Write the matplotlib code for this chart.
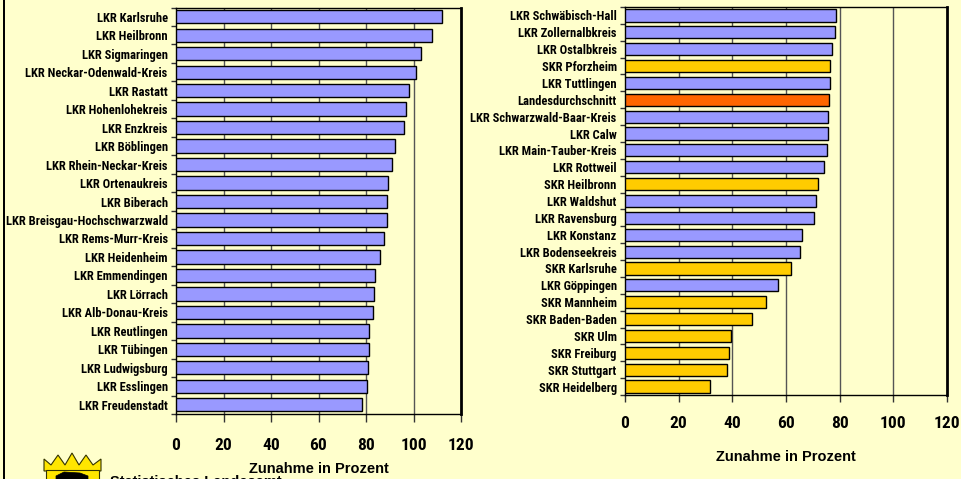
import matplotlib
matplotlib.use("Agg")
import matplotlib.pyplot as plt
from matplotlib.patches import Polygon, Rectangle
import numpy as np
import logging
logging.getLogger('matplotlib.font_manager').setLevel(logging.ERROR)

NARROW = ['Liberation Sans Narrow', 'Arial Narrow', 'Roboto Condensed', 'Fira Sans Condensed',
          'Liberation Sans', 'DejaVu Sans']
WIDE = ['Liberation Sans', 'DejaVu Sans']
plt.rcParams['font.family'] = NARROW

left_labels = ["LKR Karlsruhe", "LKR Heilbronn", "LKR Sigmaringen", "LKR Neckar-Odenwald-Kreis",
               "LKR Rastatt", "LKR Hohenlohekreis", "LKR Enzkreis", "LKR Böblingen",
               "LKR Rhein-Neckar-Kreis", "LKR Ortenaukreis", "LKR Biberach",
               "LKR Breisgau-Hochschwarzwald", "LKR Rems-Murr-Kreis", "LKR Heidenheim",
               "LKR Emmendingen", "LKR Lörrach", "LKR Alb-Donau-Kreis", "LKR Reutlingen",
               "LKR Tübingen", "LKR Ludwigsburg", "LKR Esslingen", "LKR Freudenstadt"]
left_values = [112.0, 107.8, 103.0, 100.9, 98.0, 96.7, 95.9, 92.1, 90.8, 89.1, 88.7,
               88.7, 87.7, 85.8, 83.9, 83.4, 82.8, 81.4, 81.1, 80.9, 80.4, 78.5]

right_labels = ["LKR Schwäbisch-Hall", "LKR Zollernalbkreis", "LKR Ostalbkreis", "SKR Pforzheim",
                "LKR Tuttlingen", "Landesdurchschnitt", "LKR Schwarzwald-Baar-Kreis", "LKR Calw",
                "LKR Main-Tauber-Kreis", "LKR Rottweil", "SKR Heilbronn", "LKR Waldshut",
                "LKR Ravensburg", "LKR Konstanz", "LKR Bodenseekreis", "SKR Karlsruhe",
                "LKR Göppingen", "SKR Mannheim", "SKR Baden-Baden", "SKR Ulm", "SKR Freiburg",
                "SKR Stuttgart", "SKR Heidelberg"]
right_values = [78.6, 78.3, 77.1, 76.3, 76.3, 75.9, 75.7, 75.7, 75.3, 74.1, 72.1, 71.1,
                70.6, 65.8, 65.2, 62.0, 57.2, 52.4, 47.5, 39.5, 38.8, 38.0, 31.5]

x_ticks = [0, 20, 40, 60, 80, 100, 120]
x_label = "Zunahme in Prozent"

BG = "#FFFFCC"
BLUE = "#9999FF"
GOLD = "#FFCC00"
ORANGE = "#FF6600"


def bar_color(lbl):
    if lbl.startswith("SKR"):
        return GOLD
    if lbl.startswith("Landes"):
        return ORANGE
    return BLUE


fig = plt.figure(figsize=(9.61, 4.79), dpi=100)
fig.patch.set_facecolor(BG)

W, H = 961, 479


def make_axes(x0, x1, ytop, ybot):
    return fig.add_axes([x0 / W, 1 - ybot / H, (x1 - x0) / W, (ybot - ytop) / H])


def style(ax, labels, values, tick_len, tickpad, label_pad):
    n = len(labels)
    y = np.arange(n)
    colors = [bar_color(l) for l in labels]
    ax.barh(y, values, height=0.72, color=colors, edgecolor="black", linewidth=1.0, zorder=3)
    ax.set_facecolor(BG)
    ax.set_xlim(0, 120)
    ax.set_ylim(n - 0.5, -0.5)
    ax.set_xticks(x_ticks)
    ax.set_xticklabels([str(t) for t in x_ticks], fontsize=12.5, fontweight="bold")
    ax.tick_params(axis="x", direction="out", length=tick_len, width=1, color="#333333", pad=tickpad)
    ax.set_yticks(y)
    ax.set_yticklabels(labels, fontsize=9, fontweight="bold")
    ax.tick_params(axis="y", which="major", length=0, pad=6)
    ax.set_yticks(np.arange(n + 1) - 0.5, minor=True)
    ax.tick_params(axis="y", which="minor", length=3.5, width=1, color="#333333")
    for xv in x_ticks[1:-1]:
        ax.axvline(xv, color="#555555", lw=1.0, zorder=1)
    for side in ["top", "bottom", "left"]:
        ax.spines[side].set_linewidth(1.0)
        ax.spines[side].set_color("black")
    ax.spines["right"].set_linewidth(2.0)
    ax.spines["right"].set_color("black")
    ax.set_xlabel(x_label, fontsize=10.5, fontweight="bold", family=WIDE, labelpad=label_pad)


ax1 = make_axes(176, 461, 7.5, 414)
style(ax1, left_labels, left_values, 6, 11, 7)

ax2 = make_axes(625, 947, 7, 395)
style(ax2, right_labels, right_values, 5, 10, 14)

# left black border
fig.add_artist(Rectangle((3 / W, 0), 2 / W, 1, transform=fig.transFigure, color="black", lw=0))


# simplified coat of arms (crown + shield)
def fx(px):
    return px / W


def fy(py):
    return 1 - py / H


crown = [(44, 471), (44, 459), (51, 465), (58, 455), (65, 465), (72, 453), (79, 465),
         (86, 455), (93, 465), (101, 459), (101, 471)]
fig.add_artist(Polygon([(fx(a), fy(b)) for a, b in crown], closed=True, transform=fig.transFigure,
                       facecolor="#FFE600", edgecolor="#333300", lw=0.8))
shield = [(46, 470), (99, 470), (99, 481), (46, 481)]
fig.add_artist(Polygon([(fx(a), fy(b)) for a, b in shield], closed=True, transform=fig.transFigure,
                       facecolor="#FFE600", edgecolor="#333300", lw=0.8))
lion = [(56, 476), (64, 472), (80, 473), (88, 476), (88, 481), (56, 481)]
fig.add_artist(Polygon([(fx(a), fy(b)) for a, b in lion], closed=True, transform=fig.transFigure,
                       facecolor="black", edgecolor="black", lw=0.5))
fig.text(fx(110), fy(475), "Statistisches Landesamt", fontsize=10.5, fontweight="bold",
         family=WIDE, va="top", ha="left")

fig.savefig("out.png", dpi=100, facecolor=BG)
